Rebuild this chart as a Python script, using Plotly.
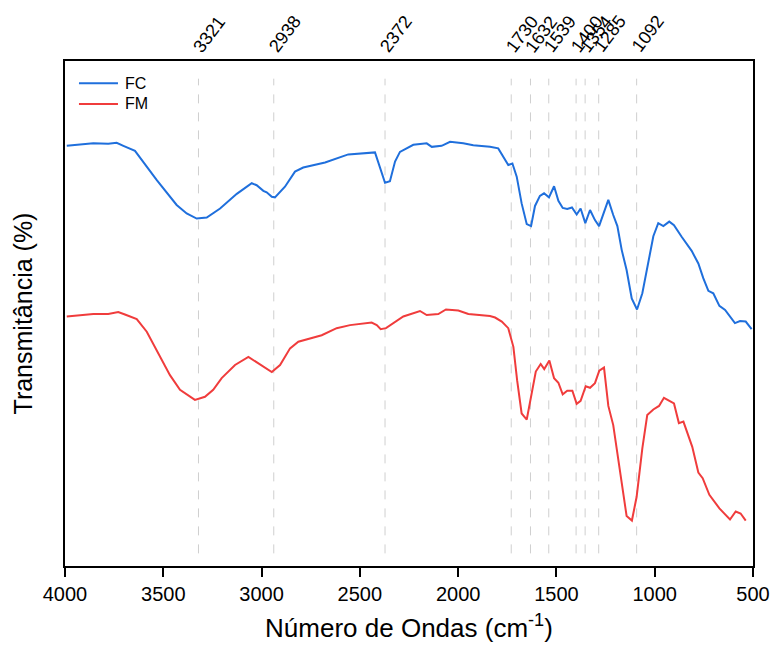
import plotly.graph_objects as go

# FTIR spectra (wavenumber in cm-1, transmittance in arbitrary %)
fc_wavenumber = [3991, 3856, 3780, 3737, 3703, 3644, 3533, 3432, 3381, 3330, 3279, 3211, 3126,
                 3050, 3025, 2991, 2974, 2948, 2932, 2881, 2830, 2788, 2677, 2618, 2559, 2423,
                 2372, 2347, 2321, 2296, 2228, 2160, 2134, 2084, 2041, 1974, 1923, 1838, 1796,
                 1745, 1724, 1702, 1677, 1651, 1629, 1609, 1584, 1563, 1538, 1512, 1490, 1468,
                 1445, 1421, 1397, 1377, 1353, 1329, 1304, 1283, 1236, 1211, 1190, 1168, 1143,
                 1117, 1090, 1063, 1041, 1007, 982, 956, 926, 902, 863, 812, 778, 753, 727, 702,
                 671, 642, 592, 566, 537, 507]
fc_transmittance = [83.2, 83.7, 83.6, 83.8, 83.2, 82.2, 76.4, 71.5, 69.8, 68.8, 69.0, 70.8, 73.7,
                    75.8, 75.4, 74.3, 74.0, 73.1, 73.0, 75.1, 78.1, 78.9, 79.9, 80.7, 81.5, 81.9,
                    75.9, 76.2, 80.1, 82.0, 83.4, 83.7, 83.0, 83.2, 84.0, 83.7, 83.3, 83.0, 82.7,
                    79.4, 79.7, 77.1, 71.8, 67.7, 67.3, 71.3, 73.3, 73.8, 73.0, 75.2, 72.3, 70.9,
                    70.7, 71.0, 69.6, 70.8, 67.9, 70.5, 68.5, 67.3, 72.5, 69.5, 67.3, 62.6, 58.6,
                    53.0, 50.8, 54.0, 58.6, 65.3, 67.9, 67.3, 68.2, 67.5, 65.2, 62.4, 59.9, 57.0,
                    54.5, 54.0, 51.5, 50.7, 48.1, 48.5, 48.4, 46.9]

fm_wavenumber = [3991, 3856, 3780, 3729, 3695, 3635, 3584, 3517, 3466, 3415, 3373, 3339, 3288,
                 3246, 3203, 3135, 3067, 3017, 2999, 2948, 2906, 2855, 2813, 2694, 2618, 2550,
                 2440, 2414, 2394, 2367, 2279, 2194, 2160, 2101, 2062, 1999, 1948, 1889, 1838,
                 1812, 1778, 1745, 1719, 1700, 1677, 1651, 1626, 1605, 1580, 1562, 1536, 1512,
                 1490, 1468, 1445, 1419, 1397, 1377, 1351, 1329, 1304, 1282, 1258, 1236, 1211,
                 1185, 1143, 1116, 1092, 1063, 1038, 1007, 978, 953, 902, 877, 854, 809, 778,
                 756, 722, 671, 617, 588, 563, 537]
fm_transmittance = [49.4, 49.9, 49.9, 50.3, 49.8, 48.9, 46.4, 41.4, 37.8, 34.9, 33.7, 32.9, 33.5,
                    34.9, 37.2, 39.8, 41.4, 40.1, 39.8, 38.4, 39.8, 43.1, 44.4, 45.7, 47.1, 47.7,
                    48.2, 47.7, 46.9, 47.1, 49.4, 50.5, 49.7, 49.9, 50.8, 50.6, 49.9, 49.7, 49.5,
                    49.2, 48.4, 47.1, 43.4, 36.8, 30.2, 29.0, 33.9, 38.5, 40.0, 39.0, 40.7, 37.2,
                    36.3, 34.0, 34.7, 34.7, 32.1, 32.7, 35.6, 35.3, 36.2, 38.7, 39.3, 31.7, 27.9,
                    21.0, 9.9, 9.0, 13.7, 23.3, 29.9, 31.0, 31.7, 33.3, 32.2, 28.3, 28.6, 23.6,
                    18.5, 17.4, 14.1, 11.4, 9.2, 10.8, 10.4, 9.0]

# Band positions marked with dashed guides
peak_positions = [3321, 2938, 2372, 1730, 1632, 1539, 1400, 1354, 1285, 1092]
peak_labels = [str(p) for p in peak_positions]

series_names = ["FC", "FM"]
series_colors = ["#1f6fdc", "#f03c3c"]

FONT = "Liberation Sans, Arial, sans-serif"

fig = go.Figure()
for name, xs, ys, color in zip(series_names,
                               [fc_wavenumber, fm_wavenumber],
                               [fc_transmittance, fm_transmittance],
                               series_colors):
    fig.add_trace(go.Scatter(x=xs, y=ys, mode="lines", name=name,
                             line=dict(color=color, width=2)))

for pos, label in zip(peak_positions, peak_labels):
    fig.add_shape(type="line", xref="x", yref="y", x0=pos, x1=pos, y0=2.5, y1=96.5,
                  line=dict(color="#cfcfcf", width=1, dash="dash"), layer="below")
    fig.add_annotation(x=pos, xref="x", y=1, yref="paper", text=label, showarrow=False,
                       textangle=-53, xanchor="center", yanchor="middle", xshift=11, yshift=27,
                       font=dict(family=FONT, size=18, color="black"))

# Legend drawn inside the top-left corner of the frame
legend_rows = [0.956, 0.915]
for name, color, yrow in zip(series_names, series_colors, legend_rows):
    fig.add_shape(type="line", xref="paper", yref="paper", x0=0.0203, x1=0.077,
                  y0=yrow, y1=yrow, line=dict(color=color, width=2))
    fig.add_annotation(x=0.0843, xref="paper", y=yrow, yref="paper", text=name,
                       showarrow=False, xanchor="left", yanchor="middle",
                       font=dict(family=FONT, size=16, color="black"))

fig.update_layout(
    width=774, height=648,
    margin=dict(l=65, r=21, t=61, b=82),
    paper_bgcolor="white", plot_bgcolor="white",
    font=dict(family=FONT, color="black"),
    showlegend=False,
    xaxis=dict(
        range=[4000, 500], tickmode="array", tickvals=[4000, 3500, 3000, 2500, 2000, 1500, 1000, 500],
        ticks="outside", ticklen=9, tickwidth=2, tickcolor="black",
        showline=True, linecolor="black", linewidth=2, mirror=True,
        showgrid=False, zeroline=False, automargin=False,
        tickfont=dict(family=FONT, size=20),
        title=dict(text="Número de Ondas (cm<sup>-1</sup>)", font=dict(family=FONT, size=26), standoff=15),
    ),
    yaxis=dict(
        range=[0, 100], showticklabels=False, ticks="",
        showline=True, linecolor="black", linewidth=2, mirror=True,
        showgrid=False, zeroline=False, automargin=False,
        title=dict(text="Transmitância (%)", font=dict(family=FONT, size=25), standoff=23),
    ),
)

fig.write_html("out.html")
